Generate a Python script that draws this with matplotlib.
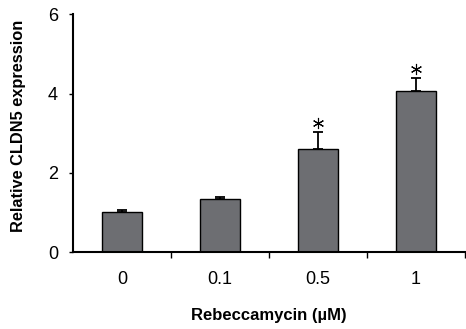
import matplotlib
matplotlib.use("Agg")
import matplotlib.pyplot as plt
import numpy as np

categories = ["0", "0.1", "0.5", "1"]
values = [1.01, 1.35, 2.60, 4.06]
errors = [0.04, 0.04, 0.42, 0.33]
significant = [False, False, True, True]
yticks = [0, 2, 4, 6]

plt.rcParams['font.family'] = ['Liberation Sans', 'DejaVu Sans']

fig = plt.figure(figsize=(4.66, 3.29), dpi=100)
ax = fig.add_axes([0.157, 0.234, 0.841, 0.722])

x = np.arange(len(categories))
ax.bar(x, values, width=0.41, color="#6d6e72", edgecolor="black", linewidth=1.0, zorder=2)
ax.errorbar(x, values, yerr=[np.zeros(len(values)), errors], fmt="none",
            ecolor="black", elinewidth=1.3, capsize=3.5, capthick=1.3, zorder=3)
sig_x = [xi for xi, s in zip(x, significant) if s]
sig_y = [v + e + 0.24 for v, e, s in zip(values, errors, significant) if s]
ax.plot(sig_x, sig_y, linestyle="none", marker=(6, 2, 0), markersize=8,
        markeredgewidth=0.8, color="black", clip_on=False, zorder=4)

ax.set_xlim(-0.5, len(categories) - 0.5)
ax.set_ylim(0, 6)
ax.set_yticks(yticks)
ax.set_xticks(x)
ax.set_xticklabels(categories)
ax.set_xticks(np.arange(len(categories)) + 0.5, minor=True)
ax.tick_params(axis="x", which="major", length=0, pad=14, labelsize=13)
ax.tick_params(axis="x", which="minor", length=4, width=1.0, direction="out")
ax.tick_params(axis="y", length=3, width=1.0, direction="out", labelsize=13, pad=8)

for side in ["top", "right"]:
    ax.spines[side].set_visible(False)
ax.spines["left"].set_linewidth(1.5)
ax.spines["bottom"].set_linewidth(1.5)

ax.set_ylabel("Relative CLDN5 expression", fontsize=11.8, fontweight="bold",
              va="center")
ax.yaxis.set_label_coords(-0.14, 0.53)
ax.set_xlabel("Rebeccamycin (\u00b5M)", fontsize=12, fontweight="bold", labelpad=14)

fig.savefig("out.png", dpi=100)
